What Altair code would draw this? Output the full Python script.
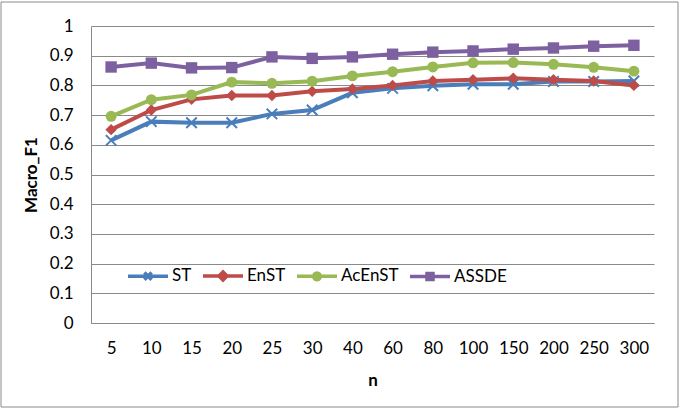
import altair as alt
import pandas as pd

cats = ["5", "10", "15", "20", "25", "30", "40", "60", "80", "100", "150", "200", "250", "300"]
series_names = ["ST", "EnST", "AcEnST", "ASSDE"]
st = [0.615, 0.678, 0.674, 0.674, 0.704, 0.717, 0.775, 0.790, 0.799, 0.804, 0.804, 0.813, 0.813, 0.815]
enst = [0.651, 0.717, 0.753, 0.766, 0.766, 0.780, 0.788, 0.800, 0.815, 0.819, 0.824, 0.819, 0.815, 0.800]
acenst = [0.696, 0.752, 0.768, 0.811, 0.807, 0.814, 0.832, 0.846, 0.862, 0.876, 0.877, 0.871, 0.861, 0.848]
assde = [0.862, 0.875, 0.859, 0.860, 0.896, 0.891, 0.896, 0.905, 0.912, 0.916, 0.922, 0.926, 0.932, 0.935]
colors = ["#4a7ebb", "#be4b48", "#98b954", "#7d60a0"]
y_ticks = [0, 0.1, 0.2, 0.3, 0.4, 0.5, 0.6, 0.7, 0.8, 0.9, 1.0]

rows = []
for name, vals in zip(series_names, [st, enst, acenst, assde]):
    for c, v in zip(cats, vals):
        rows.append({"n": c, "v": v, "series": name, "leg": name})
df = pd.DataFrame(rows)

FONT = "Lato"
GRID = "#8a8a8a"

x_enc = alt.X("n:O", sort=cats, scale=alt.Scale(type="point", padding=0.5),
              axis=alt.Axis(title="n", labelAngle=0, ticks=False, labelPadding=17,
                            titlePadding=16, domainColor=GRID, grid=False))
y_enc = alt.Y("v:Q", scale=alt.Scale(domain=[0, 1], nice=False),
              axis=alt.Axis(title="Macro_F1", values=y_ticks, format=".1~f", ticks=False,
                            labelPadding=18, titlePadding=9, gridColor=GRID,
                            domainColor=GRID))
# colour scale for the drawn series (domain listed in reverse so its legend stays separate)
color_scale = alt.Scale(domain=series_names[::-1], range=colors[::-1])

base = alt.Chart(df)

lines = base.mark_line(strokeWidth=4).encode(
    x=x_enc, y=y_enc,
    color=alt.Color("series:N", scale=color_scale, legend=None),
)

X_PATH = "M-1,-1L1,1M-1,1L1,-1"
pts_st = base.transform_filter("datum.series == 'ST'").mark_point(
    shape=X_PATH, filled=False, strokeWidth=2, size=110, opacity=1
).encode(x=x_enc, y=y_enc, color=alt.Color("series:N", scale=color_scale, legend=None))

pts_en = base.transform_filter("datum.series == 'EnST'").mark_point(
    shape="diamond", filled=True, size=130, opacity=1
).encode(x=x_enc, y=y_enc, color=alt.Color("series:N", scale=color_scale, legend=None))

pts_ac = base.transform_filter("datum.series == 'AcEnST'").mark_point(
    shape="circle", filled=True, size=120, opacity=1
).encode(x=x_enc, y=y_enc, color=alt.Color("series:N", scale=color_scale, legend=None))

pts_as = base.transform_filter("datum.series == 'ASSDE'").mark_point(
    shape="square", filled=True, size=130, opacity=1
).encode(x=x_enc, y=y_enc, color=alt.Color("series:N", scale=color_scale, legend=None))

leg_paths = [
    "M-1,0H1M-0.18,-0.18L0.18,0.18M-0.18,0.18L0.18,-0.18",
    "M-1,0H1M0,-0.2L0.2,0L0,0.2L-0.2,0Z",
    "M-1,0H1M0.17,0A0.17,0.17,0,1,1,-0.17,0A0.17,0.17,0,1,1,0.17,0Z",
    "M-1,0H1M-0.15,-0.15H0.15V0.15H-0.15Z",
]
leg_cfg = dict(title=None, orient="none", legendX=35, legendY=228, direction="horizontal",
               symbolSize=1600, labelOffset=2, columnPadding=4, padding=0,
               labelFontSize=17, labelFont=FONT, labelColor="black",
               symbolStrokeWidth=3.5, symbolOpacity=1, symbolFillColor="white")
legend_layer = base.mark_point(
    filled=True, opacity=1, strokeWidth=3.5, size=0
).encode(
    x=x_enc, y=y_enc,
    fill=alt.Fill("leg:N", scale=alt.Scale(domain=series_names, range=colors),
                  legend=alt.Legend(**leg_cfg)),
    stroke=alt.Stroke("leg:N", scale=alt.Scale(domain=series_names, range=colors),
                      legend=alt.Legend(**leg_cfg)),
    shape=alt.Shape("leg:N", scale=alt.Scale(domain=series_names, range=leg_paths),
                    legend=alt.Legend(**leg_cfg)),
)

frame = alt.Chart(alt.Data(values=[{"a": 1}])).mark_rect(
    fill="transparent", stroke="#8a8a8a", strokeWidth=1
).encode(x=alt.value(-90), x2=alt.value(587), y=alt.value(-24), y2=alt.value(381))

chart = alt.layer(lines, pts_st, pts_en, pts_ac, pts_as, legend_layer, frame).properties(
    width=563, height=297,
    autosize=alt.AutoSizeParams(type="none"),
    padding={"left": 91, "top": 26, "right": 29, "bottom": 87},
    background="white",
).configure_view(stroke=None).configure_axis(
    labelFont=FONT, labelFontSize=17, labelColor="black",
    titleFont=FONT, titleFontSize=17, titleFontWeight="bold", titleColor="black",
)

chart.save("out.html", embed_options={"renderer": "svg", "actions": False})
